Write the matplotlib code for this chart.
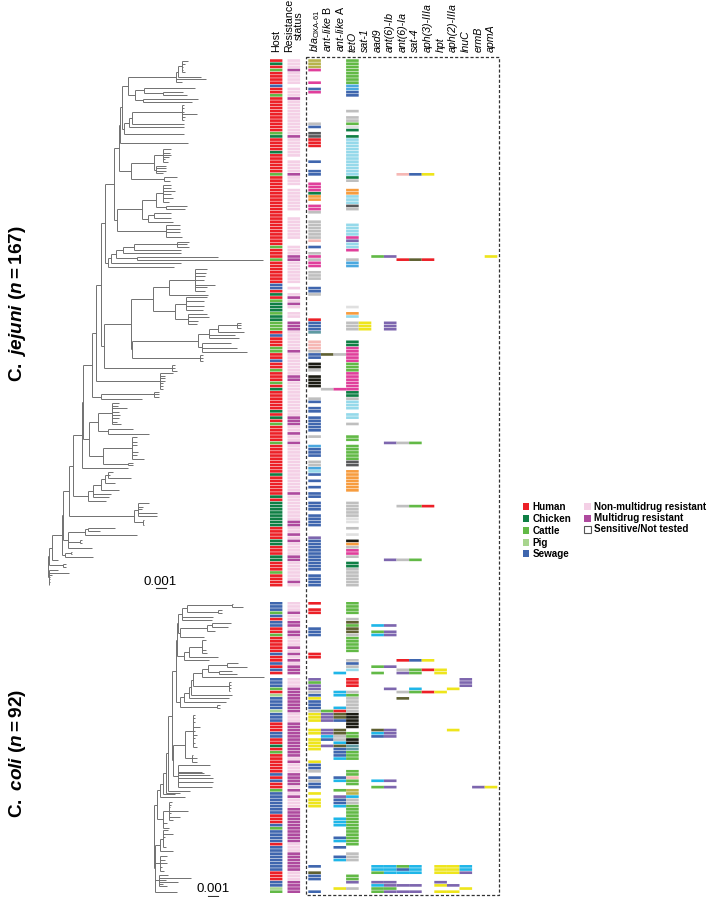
import matplotlib
matplotlib.use("Agg")
import matplotlib.pyplot as plt
from matplotlib.collections import LineCollection
from matplotlib.patches import Rectangle

plt.rcParams['font.family'] = ['Liberation Sans', 'DejaVu Sans']
plt.rcParams['mathtext.fontset'] = 'custom'
plt.rcParams['mathtext.rm'] = 'Liberation Sans'
plt.rcParams['mathtext.it'] = 'Liberation Sans:italic'
plt.rcParams['mathtext.bf'] = 'Liberation Sans:bold'
plt.rcParams['mathtext.bfit'] = 'Liberation Sans:italic:bold'

gene_labels = [r"$\mathit{bla}_{\text{OXA-61}}$", r"$\mathit{ant}$-$\mathit{like}$ B", r"$\mathit{ant}$-$\mathit{like}$ A",
               "tetO", "sat-1", "aad9", "ant(6)-Ib", "ant(6)-Ia", "sat-4", "aph(3)-IIIa", "hpt", "aph(2)-IIIa",
               "lnuC", "ermB", "apmA"]
host_legend = [("Human", "R"), ("Chicken", "G"), ("Cattle", "C"), ("Pig", "P"), ("Sewage", "S")]
res_legend = [("Non-multidrug resistant", "n"), ("Multidrug resistant", "M")]

colors = {"R": "#ec2027", "G": "#0f7f45", "C": "#62b946", "P": "#a8d58e", "S": "#3f66ae",
          "n": "#f4d0e6", "M": "#ae4a9e", "K": "#1c1c14", "D": "#58585a", "g": "#bfbfbf",
          "l": "#e0e0e0", "o": "#f79c3e", "c": "#95d9ea", "b": "#1fb6e8", "u": "#4ba8df",
          "m": "#e03f9b", "y": "#eee51c", "v": "#7d66ae", "s": "#f6b8b5", "O": "#5f6032",
          "a": "#b7b34c", "t": "#5f9aa2"}

# host and resistance columns, run lengths top to bottom, '.' is an empty row
host_j = "R1 G1 R1 C1 R4 S1 R2 C1 R11 C1 G1 R4 G1 R6 C1 R22 C1 R3 C1 R7 S2 R1 G1 R1 C1 G3 C1 G2 C3 R1 S1 R3 C2 R2 S1 R2 C1 R3 C1 R1 G1 R6 G1 R1 G1 R1 C1 R5 C1 R9 G1 R6 G1 R1 G8 R4 G2 R3 G2 R3 C1 R4"
res_j = "n3 M1 n4 .1 n3 M1 n11 M1 n6 .1 n4 M1 n3 .1 n7 .2 n7 .2 n3 M2 n7 .1 n1 .1 n1 M1 n1 M1 n1 .1 n2 .1 M3 n6 M1 n7 M2 n11 M3 n2 M1 n2 M1 n15 M1 n8 M2 n2 M1 n1 M1 n4 M2 n6 M1 n1"
host_c = "S3 C1 S1 R1 S2 R2 C1 R5 S1 R2 S1 R1 S1 R1 .1 S3 C1 R1 P1 S4 P1 S3 R3 S2 R2 G1 R1 C1 R6 S1 R1 S1 R2 C1 S7 R3 S1 C1 S4 R1 S8 R3 S2 P1 C1"
res_c = "n3 M1 n2 M2 n1 M2 n3 M1 n1 M1 n1 M1 n1 M3 .1 n3 M8 n3 M11 n1 M1 n3 M4 n1 M1 n1 M1 n3 M11 n3 M6 n3 M4"

# gene columns of C. jejuni: (first row, colour codes)
genes_j = [
    [(0, "aaa"), (3, "m"), (7, "m"), (9, "Sm"), (20, "gS"), (23, "DD"), (25, "RRR"), (32, "S"), (35, "SS"),
     (39, "mmmGoo"), (46, "mmg"), (51, "gggggg"), (57, "s"), (59, "S"), (61, "gmgmm"), (67, "ggg"), (72, "SS"), (74, "g"),
     (82, "R"), (83, "SSS"), (86, "t"), (89, "sss"), (92, "g"), (93, "SS"), (96, "KK"), (98, "g"), (100, "KKKK"),
     (107, "gS"), (110, "SS"), (113, "SSSSS"), (119, "g"), (122, "uSSS"), (127, "gg"), (129, "ucS"), (133, "S"), (135, "S"),
     (137, "SS"), (140, "SSS"), (144, "SSSS"), (151, "v"), (152, "SSSSSSSSSS"), (163, "SSSS")],
    [(93, "O"), (104, "g")],
    [(93, "g"), (104, "m")],
    [(0, "CCCCCCCC"), (8, "uuSS"), (16, "g"), (18, "ggCl"), (22, "G"), (24, "G"), (25, "cccccccccccc"), (37, "Gg"),
     (41, "ooccc"), (46, "Dg"), (52, "cccc"), (56, "mvccm"), (63, "guu"),
     (78, "l"), (80, "oc"), (83, "ggg"), (89, "GG"), (91, "mmmmm"), (96, "CCC"), (99, "mmmmmm"), (105, "GGg"),
     (108, "ccc"), (112, "cc"), (115, "g"), (119, "CC"), (122, "CCCCC"), (127, "DD"), (130, "ooooooo"),
     (140, "ggggg"), (145, "ll"), (148, "g"), (150, "l"), (152, "Kogmmg"), (159, "GG"), (161, "gggggg")],
    [(83, "yyy")],
    [(62, "C")],
    [(62, "v"), (83, "vvv"), (121, "v"), (158, "v")],
    [(36, "s"), (63, "R"), (121, "g"), (141, "g"), (158, "g")],
    [(36, "S"), (63, "O"), (121, "C"), (141, "C"), (158, "C")],
    [(36, "y"), (63, "R"), (141, "R")],
    [], [], [], [],
    [(62, "y")],
]

# gene columns of C. coli
genes_c = [
    [(0, "R"), (2, "RR"), (8, "SSS"), (16, "RR"), (24, "vCvvgSy"), (31, "SSS"), (34, "gyyy"), (40, "yy"), (43, "yyyy"),
     (50, "ySSg"), (55, "SgSS"), (60, "y"), (62, "yyy"), (83, "S"), (85, "OSS"), (91, "S")],
    [(34, "Cvvv"), (40, "vvbS"), (45, "v")],
    [(22, "b"), (28, "bb"), (33, "bROOS"), (40, "OOggbOSSSb"), (55, "Sb"), (59, "C"), (61, "vSSb"), (68, "bbb"),
     (74, "Sb"), (77, "S"), (80, "Sb"), (90, "y")],
    [(0, "CCCC"), (5, "gOCOOg"), (11, "CCCCC"), (18, "gSgc"), (24, "RRR"), (28, "gCgggg"), (34, "gKKKKK"), (41, "CCKKtt"),
     (47, "CCC"), (53, "CCsCC"), (59, "aabgg"), (64, "CCCCCCCCCCCCC"), (79, "ggg"), (86, "CCv"), (90, "g")],
    [],
    [(7, "b"), (9, "Cb"), (20, "C"), (22, "C"), (40, "ObS"), (56, "b"), (58, "C"), (83, "bbC"), (88, "vbCC")],
    [(7, "v"), (9, "vv"), (20, "v"), (27, "v"), (40, "vvv"), (56, "v"), (58, "v"), (83, "bbb"), (88, "vvCv")],
    [(18, "R"), (21, "gv"), (28, "g"), (30, "O"), (83, "CSb"), (89, "v"), (91, "v")],
    [(18, "S"), (21, "CC"), (27, "bC"), (83, "bbb"), (89, "v"), (91, "v")],
    [(18, "y"), (21, "R"), (28, "R")],
    [(21, "yy"), (28, "y"), (83, "yyy"), (88, "vy"), (91, "y")],
    [(27, "y"), (40, "y"), (83, "yyy"), (89, "v"), (91, "y")],
    [(24, "vvv"), (83, "bbv"), (90, "y")],
    [(58, "v")],
    [(58, "y")],
]


def a(x, y):
    return (x / 3, 40 + y / 3)

def b(x, y):
    return (x / 3, 320 + y / 3)

def c(x, y):
    return (x / 3, 600 + y / 3)

def N(x, *kids):
    return (x / 3, kids)


# C. jejuni tree
top = N(528, N(535, N(545, a(563, 62), a(555, 72), a(550, 80), a(548, 90), a(555, 97)), a(603, 110)), a(617, 118), a(545, 125))
n383 = N(383, top, N(405, N(433, a(584, 143), N(490, a(548, 155), a(562, 165))), N(430, a(593, 177), a(575, 185))))
n397 = N(397, N(545, a(551, 195), a(551, 205), a(551, 215), a(590, 222), a(555, 232), a(551, 240)), a(552, 252))
n372 = N(372, N(386, n397, a(553, 262)), a(553, 283))
n360 = N(360, N(367, n383, n372), a(563, 310))
c392 = N(392, N(462, N(488, a(513, 328), a(510, 338), a(512, 345), a(507, 352), a(495, 358), a(505, 365)),
                N(468, a(497, 378), a(497, 385), a(497, 392), a(490, 400))),
         N(493, a(530, 411), a(510, 422)))
c425 = N(425, N(468, N(488, a(513, 435), a(512, 445), a(525, 452), a(512, 462), a(518, 475), a(508, 485)),
                N(497, a(560, 497), a(555, 507))),
         N(443, N(462, a(512, 518), a(512, 535)), a(520, 545)))
n343 = N(343, N(357, n360, c392), N(350, c425, N(497, a(541, 556), a(541, 566), a(541, 576), a(545, 592))))
n325 = N(325, N(333, N(348, N(368, N(403, N(530, a(568, 605), a(562, 613), a(568, 622)), a(543, 630)), a(543, 640)),
                       N(412, a(655, 650), a(788, 660))), a(542, 668)), a(522, 680))
c460 = N(460, N(507, N(585, a(620, 688), a(618, 698), a(615, 708), a(612, 720), a(645, 735), a(620, 740), a(615, 752)), a(625, 765)),
         N(525, N(558, a(622, 772), a(612, 782), a(612, 797), a(610, 810)),
           N(565, a(620, 822), a(628, 830), a(595, 842), a(590, 852))))
c397 = N(397, N(595, N(628, N(655, N(710, b(722, 8), b(722, 15), b(722, 25)), b(733, 37)), b(705, 45), b(717, 55)),
                N(605, b(692, 70), b(710, 85), b(740, 95))),
         N(600, b(608, 105), b(608, 115), b(608, 122)))
n311 = N(311, N(392, c460, c397), N(515, b(525, 135), b(525, 145), b(530, 152)))
n302 = N(302, N(315, n343, n325), n311)
n288 = N(288, n302, N(480, b(520, 160), b(495, 168), b(495, 175), b(495, 182), b(490, 190), b(488, 198), b(490, 208)))
n275 = N(275, n288, N(303, N(462, b(477, 216), b(477, 222), b(477, 230)), b(425, 237)))
n268 = N(268, N(293, N(335, b(357, 248), b(355, 258), b(380, 265), b(357, 275), b(360, 285), b(358, 295), b(352, 305), b(362, 313)),
                N(323, b(400, 327), b(447, 342))),
         N(310, N(395, b(412, 352), b(412, 365), b(412, 375), b(415, 395), b(410, 405), b(433, 417)),
           N(385, b(398, 428), b(398, 436))))
n245 = N(245, N(250, n275, n268), b(385, 445))
c265 = N(265, N(278, N(303, N(315, N(325, b(338, 455), b(330, 465), b(392, 475)), b(345, 490)), b(358, 510)), b(333, 522), b(328, 532)), b(318, 542))
c402 = N(402, N(415, b(448, 550), b(430, 560), b(425, 568), b(472, 578), b(470, 588)), N(430, b(433, 600), b(433, 615)))
c203 = N(203, N(255, N(265, b(345, 625), b(300, 632)), b(412, 645)), N(240, b(245, 660), b(245, 670)), b(275, 683))
n189 = N(189, N(208, N(220, n245, c265), c402), c203)
n185 = N(185, n189, N(196, N(213, b(215, 695), b(215, 702)), b(280, 712)))
n148 = N(148, N(157, n185, b(175, 720)), N(190, b(198, 732), b(198, 740)))
tree_j = N(143, n148, N(146, b(175, 750), b(208, 758), b(155, 765), b(150, 772), b(150, 778), b(150, 785), b(147, 795)))

# C. coli tree
g1 = N(545, N(560, N(697, c(700, 12), c(728, 20)), N(655, c(665, 30), c(665, 40))), c(640, 50), c(635, 60))
g2 = N(540, N(620, N(637, c(693, 70), c(683, 80)), c(645, 92)), c(612, 112))
g3 = N(552, N(568, N(605, c(617, 120), c(618, 150), c(622, 160)), c(655, 172)), c(627, 180))
g4 = N(605, N(625, N(680, c(715, 190), c(740, 200)), N(657, c(697, 212), c(712, 222))), c(792, 232))
g5 = N(553, N(568, N(572, N(580, g4, N(688, c(693, 245), c(693, 255), c(693, 265), c(690, 272))), c(695, 285)), c(688, 295)), c(677, 305))
n527 = N(527, N(530, N(533, g1, g2), g3), N(540, g5, N(650, c(660, 315), c(660, 325))))
n520 = N(520, N(555, N(578, c(585, 345), c(585, 355), c(585, 365), c(600, 380), c(585, 392), c(592, 405), c(585, 415), c(585, 428), c(590, 440)),
                N(575, c(580, 465), c(590, 475), c(590, 485))),
         N(533, c(630, 495), c(605, 515), c(612, 520), c(630, 525), c(640, 535), c(640, 545), c(635, 562)))
n480 = N(480, N(490, N(497, N(505, N(515, n527, n520), c(570, 572)), c(540, 578)), c(525, 583)), c(555, 590))
c490 = N(490, N(507, c(515, 605), c(512, 615), c(510, 622), c(563, 633), c(513, 640), c(540, 652), c(520, 660)), c(500, 670), c(507, 683))
c480a = N(480, N(488, c(505, 690), c(520, 703), c(495, 712), c(490, 720), c(490, 730), c(498, 742)), c(520, 753))
c480b = N(480, c(500, 768), c(495, 780), c(500, 790), c(487, 800), c(492, 812))
c478 = N(478, c(505, 826), c(572, 833), c(498, 840), c(533, 845), c(490, 852), c(500, 857))
tree_c = N(463, N(470, n480, c490), N(465, c480a, c480b, c478, c(530, 875)))


def runs(text):
    out = []
    for token in text.split():
        out += [token[0]] * int(token[1:])
    return out


def tree_segments(node, parent_x, segs):
    x, rest = node
    if not isinstance(rest, tuple):
        segs.append([(parent_x, rest), (x, rest)])
        return rest
    ys = [tree_segments(kid, x, segs) for kid in rest]
    y = (ys[0] + ys[-1]) / 2
    segs.append([(x, ys[0]), (x, ys[-1])])
    segs.append([(parent_x, y), (x, y)])
    return y


fig = plt.figure(figsize=(7.09, 8.97), dpi=100)
ax = fig.add_axes([0, 0, 1, 1])
ax.set_xlim(0, 709)
ax.set_ylim(897, 0)
ax.axis("off")

# trees
for tree in [tree_j, tree_c]:
    segs = []
    tree_segments(tree, tree[0], segs)
    ax.add_collection(LineCollection(segs, colors="#707070", linewidths=0.7))

# heat columns, one axes for each species so rows are the y scale
col_left = [270, 287.5] + [308.3 + 12.6 * i for i in range(15)]
col_width = [12.4, 12.6] + [12.6] * 15

def heat_panel(y_top, y_bottom, host, res, genes):
    n = len(runs(host))
    hax = fig.add_axes([260 / 709, 1 - y_bottom / 897, 250 / 709, (y_bottom - y_top) / 897])
    hax.set_xlim(260, 510)
    hax.set_ylim(n, 0)
    hax.axis("off")
    cols = [[(0, "".join(runs(host)))], [(0, "".join(runs(res)))]] + genes
    for k, col in enumerate(cols):
        for start, codes in col:
            for i, code in enumerate(codes):
                if code == ".":
                    continue
                bars = hax.barh(start + i + 0.5, col_width[k], left=col_left[k], height=0.84, color=colors[code], linewidth=0)
                bars[0].set_snap(False)

heat_panel(59, 586.7, host_j, res_j, genes_j)
heat_panel(601.7, 893.3, host_c, res_c, genes_c)

# dashed frame around genes
ax.add_patch(Rectangle((305.7, 56.8), 193.6, 838.2, fill=False, edgecolor="#333333", linewidth=0.9, linestyle=(0, (2.5, 1.6))))

# column labels
ax.text(276, 52.5, "Host", rotation=90, ha="center", va="bottom", fontsize=7.7)
ax.text(294, 52.5, "Resistance\nstatus", rotation=90, ha="center", va="bottom", fontsize=7.7, linespacing=0.9, multialignment="center")
for i, label in enumerate(gene_labels):
    style = "normal" if "$" in label else "italic"
    ax.text(314.6 + 12.6 * i, 52.5, label, rotation=90, ha="center", va="bottom", fontsize=7.7, style=style)

# species labels
ax.text(18, 303.5, r"$\mathbf{C.\ }\mathbfit{jejuni}\mathbf{\ (}\mathbfit{n}\mathbf{=167)}$", rotation=90, ha="center", va="center", fontsize=13.7)
ax.text(18, 753, r"$\mathbf{C.\ }\mathbfit{coli}\mathbf{\ (}\mathbfit{n}\mathbf{=92)}$", rotation=90, ha="center", va="center", fontsize=13.7)

# scale bars
ax.text(160.5, 582, "0.001", ha="center", va="center", fontsize=9.5)
ax.plot([155.7, 165.7], [588.3, 588.3], color="#333333", lw=0.8)
ax.text(213, 889, "0.001", ha="center", va="center", fontsize=9.5)
ax.plot([208, 217.5], [895.6, 895.6], color="#333333", lw=0.8)

# legend
for (name, code), y in zip(host_legend, [506.7, 518.7, 530.7, 542.7, 553.7]):
    ax.add_patch(Rectangle((522.5, y - 3.3), 6.8, 6.6, facecolor=colors[code], linewidth=0))
    ax.text(532.7, y, name, va="center", ha="left", fontsize=7.1, fontweight="bold")
for (name, code), y in zip(res_legend, [506.7, 518.3]):
    ax.add_patch(Rectangle((584, y - 3.3), 6.8, 6.6, facecolor=colors[code], linewidth=0))
    ax.text(594.3, y, name, va="center", ha="left", fontsize=7.1, fontweight="bold")
ax.add_patch(Rectangle((584, 526), 6.8, 6.6, facecolor="white", edgecolor="#555555", linewidth=0.8))
ax.text(594.3, 529.3, "Sensitive/Not tested", va="center", ha="left", fontsize=7.1, fontweight="bold")

fig.savefig("out.png", dpi=100)
